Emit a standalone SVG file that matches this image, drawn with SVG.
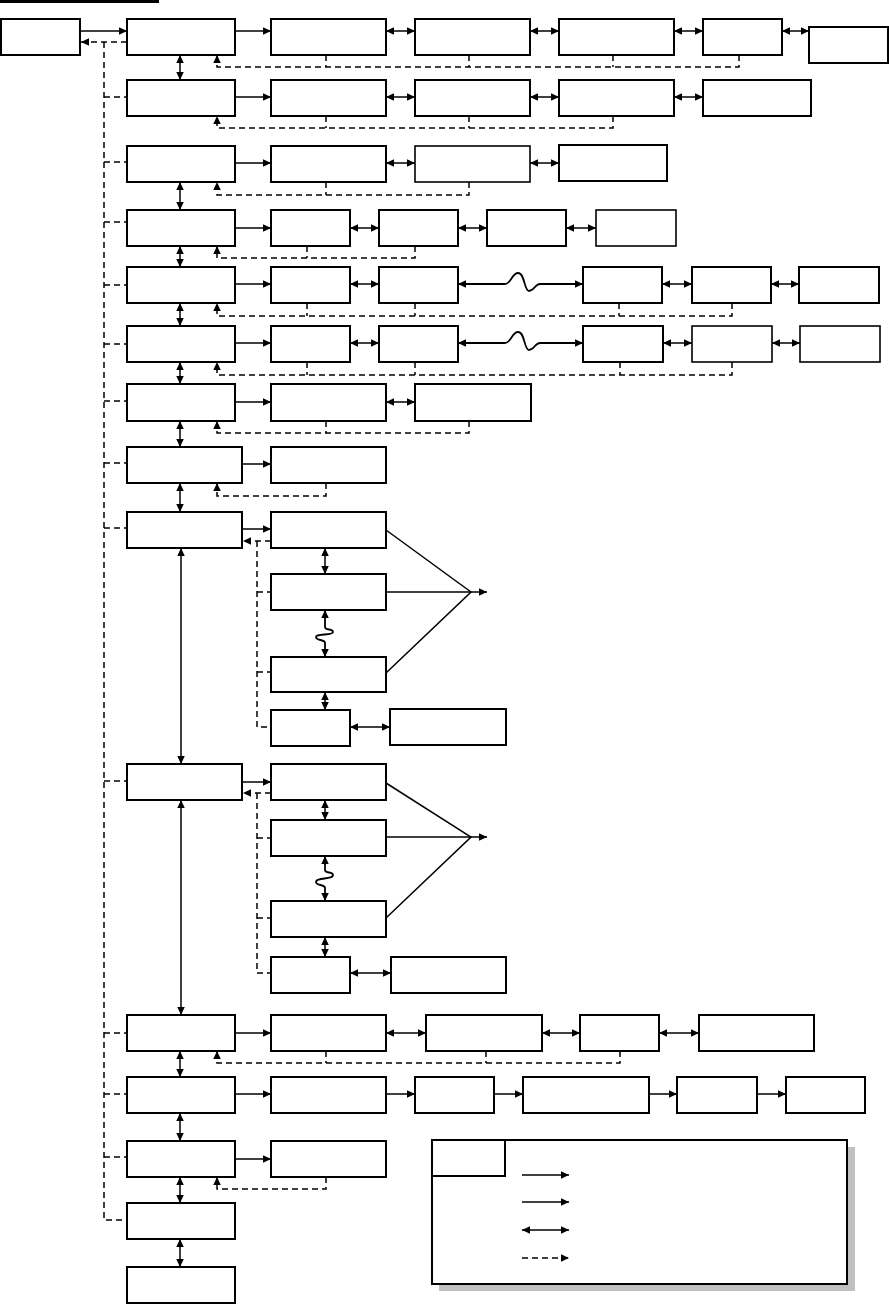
<svg xmlns="http://www.w3.org/2000/svg" width="889" height="1304" viewBox="0 0 889 1304">
<style>
.n{fill:#fff;stroke:#000;stroke-width:2}
.t{fill:#fff;stroke:#000;stroke-width:1.6}
.s{fill:none;stroke:#000;stroke-width:1.5}
.w{fill:none;stroke:#000;stroke-width:1.8}
.d{fill:none;stroke:#000;stroke-width:1.5;stroke-dasharray:6 4}
.a{marker-end:url(#ah)}
.b{marker-start:url(#ah);marker-end:url(#ah)}
</style>
<defs>
<marker id="ah" viewBox="0 0 8 7.5" refX="8" refY="3.75" markerWidth="8" markerHeight="7.5" markerUnits="userSpaceOnUse" orient="auto-start-reverse">
<path d="M0,0 L8,3.75 L0,7.5 z" fill="#000" stroke="none"/>
</marker>
</defs>
<rect x="0" y="0" width="159" height="3" fill="#000"/>

<g id="connectors">
<path class="d" d="M104,42 V1220 H127"/>
<path class="d a" d="M127,42 H81"/>
<path class="d" d="M104,97 H127 M104,162 H127 M104,222 H127 M104,285 H127 M104,344 H127 M104,401 H127 M104,463 H127 M104,528 H127 M104,781 H127 M104,1033 H127 M104,1094 H127 M104,1157 H127"/>
<!-- row 1 -->
<path class="s a" d="M80,31 H127"/>
<path class="s a" d="M235,31 H271"/>
<path class="s b" d="M386,31 H415"/>
<path class="s b" d="M530,31 H559"/>
<path class="s b" d="M674,31 H703"/>
<path class="s b" d="M782,31 H809"/>
<path class="d a" d="M739,55 V67 H217 V55"/>
<path class="d" d="M326,55 V67 M469,55 V67 M613,55 V67"/>
<!-- row 2 -->
<path class="s a" d="M235,97 H271"/>
<path class="s b" d="M386,97 H415"/>
<path class="s b" d="M530,97 H559"/>
<path class="s b" d="M674,97 H703"/>
<path class="d a" d="M613,116 V128 H217 V116"/>
<path class="d" d="M326,116 V128 M469,116 V128"/>
<!-- row 3 -->
<path class="s a" d="M235,163 H271"/>
<path class="s b" d="M386,163 H415"/>
<path class="s b" d="M530,163 H559"/>
<path class="d a" d="M469,182 V195 H217 V182"/>
<path class="d" d="M326,182 V195"/>
<!-- row 4 -->
<path class="s a" d="M235,228 H271"/>
<path class="s b" d="M350,228 H379"/>
<path class="s b" d="M458,228 H487"/>
<path class="s b" d="M566,228 H596"/>
<path class="d a" d="M415,246 V258 H217 V246"/>
<path class="d" d="M307,246 V258"/>
<!-- row 5 -->
<path class="s a" d="M235,284 H271"/>
<path class="s b" d="M350,284 H379"/>
<path class="w b" d="M458,284 H505 C511,284 512,273 518,273 C525,273 524,291 529,291 C534,291 535,284 540,284 H583"/>
<path class="s b" d="M662,284 H692"/>
<path class="s b" d="M771,284 H799"/>
<path class="d a" d="M732,303 V316 H217 V303"/>
<path class="d" d="M307,303 V316 M415,303 V316 M619,303 V316"/>
<!-- row 6 -->
<path class="s a" d="M235,343 H271"/>
<path class="s b" d="M350,343 H379"/>
<path class="w b" d="M458,343 H505 C511,343 512,332 518,332 C525,332 524,350 529,350 C534,350 535,343 540,343 H583"/>
<path class="s b" d="M663,343 H692"/>
<path class="s b" d="M772,343 H800"/>
<path class="d a" d="M732,362 V375 H217 V362"/>
<path class="d" d="M307,362 V375 M415,362 V375 M620,362 V375"/>
<!-- row 7 -->
<path class="s a" d="M235,402 H271"/>
<path class="s b" d="M386,402 H415"/>
<path class="d a" d="M469,421 V433 H217 V421"/>
<path class="d" d="M326,421 V433"/>
<!-- row 8 -->
<path class="s a" d="M242,464 H271"/>
<path class="d a" d="M326,483 V496 H217 V483"/>
<!-- row 9 -->
<path class="s a" d="M242,529 H271"/>
<path class="d a" d="M271,541 H243"/>
<path class="d" d="M257,541 V727 H271 M257,592 H271 M257,672 H271"/>
<path class="s b" d="M325,548 V574"/>
<path class="w b" d="M325,610 V627 C325,631 333,628 333,632 C333,636 316,633 316,637 C316,641 325,639 325,643 V657"/>
<path class="s b" d="M325,692 V710"/>
<path class="s b" d="M350,727 H390"/>
<path class="s" d="M386,530 L471,592 L386,673"/>
<path class="s a" d="M386,592 H487"/>
<!-- row 10 -->
<path class="s a" d="M242,782 H271"/>
<path class="d a" d="M271,793 H243"/>
<path class="d" d="M257,793 V973 H271 M257,838 H271 M257,918 H271"/>
<path class="s b" d="M325,800 V820"/>
<path class="w b" d="M325,856 V870 C325,874 333,871 333,875 C333,880 316,877 316,882 C316,886 325,884 325,888 V901"/>
<path class="s b" d="M325,937 V957"/>
<path class="s b" d="M350,973 H391"/>
<path class="s" d="M386,783 L471,837 L386,918"/>
<path class="s a" d="M386,837 H487"/>
<!-- row 11 -->
<path class="s a" d="M235,1033 H271"/>
<path class="s b" d="M386,1033 H426"/>
<path class="s b" d="M542,1033 H580"/>
<path class="s b" d="M659,1033 H699"/>
<path class="d a" d="M620,1051 V1063 H217 V1051"/>
<path class="d" d="M326,1051 V1063 M486,1051 V1063"/>
<!-- row 12 -->
<path class="s a" d="M235,1094 H271"/>
<path class="s a" d="M386,1094 H415"/>
<path class="s a" d="M494,1094 H523"/>
<path class="s a" d="M649,1094 H677"/>
<path class="s a" d="M757,1094 H786"/>
<!-- row 13 -->
<path class="s a" d="M235,1159 H271"/>
<path class="d a" d="M326,1177 V1189 H217 V1177"/>
<!-- main column vertical -->
<path class="s b" d="M180,55 V80"/>
<path class="s b" d="M180,182 V210"/>
<path class="s b" d="M180,246 V267"/>
<path class="s b" d="M180,303 V326"/>
<path class="s b" d="M180,362 V384"/>
<path class="s b" d="M180,421 V447"/>
<path class="s b" d="M180,483 V512"/>
<path class="s b" d="M181,548 V764"/>
<path class="s b" d="M181,800 V1015"/>
<path class="s b" d="M180,1051 V1077"/>
<path class="s b" d="M180,1113 V1141"/>
<path class="s b" d="M180,1177 V1203"/>
<path class="s b" d="M180,1239 V1267"/>
</g>

<g id="A"><rect class="n" x="1" y="19" width="79" height="36"/></g>
<g id="B1"><rect class="n" x="127" y="19" width="108" height="36"/></g>
<g id="r1c1"><rect class="n" x="271" y="19" width="115" height="36"/></g>
<g id="r1c2"><rect class="n" x="415" y="19" width="115" height="36"/></g>
<g id="r1c3"><rect class="n" x="559" y="19" width="115" height="36"/></g>
<g id="r1c4"><rect class="n" x="703" y="19" width="79" height="36"/></g>
<g id="r1c5"><rect class="n" x="809" y="27" width="79" height="36"/></g>

<g id="B2"><rect class="n" x="127" y="80" width="108" height="36"/></g>
<g id="r2c1"><rect class="n" x="271" y="80" width="115" height="36"/></g>
<g id="r2c2"><rect class="n" x="415" y="80" width="115" height="36"/></g>
<g id="r2c3"><rect class="n" x="559" y="80" width="115" height="36"/></g>
<g id="r2c4"><rect class="n" x="703" y="80" width="108" height="36"/></g>

<g id="B3"><rect class="n" x="127" y="146" width="108" height="36"/></g>
<g id="r3c1"><rect class="n" x="271" y="146" width="115" height="36"/></g>
<g id="r3c2"><rect class="t" x="415" y="146" width="115" height="36"/></g>
<g id="r3c3"><rect class="n" x="559" y="145" width="108" height="36"/></g>

<g id="B4"><rect class="n" x="127" y="210" width="108" height="36"/></g>
<g id="r4c1"><rect class="n" x="271" y="210" width="79" height="36"/></g>
<g id="r4c2"><rect class="n" x="379" y="210" width="79" height="36"/></g>
<g id="r4c3"><rect class="n" x="487" y="210" width="79" height="36"/></g>
<g id="r4c4"><rect class="t" x="596" y="210" width="80" height="36"/></g>

<g id="B5"><rect class="n" x="127" y="267" width="108" height="36"/></g>
<g id="r5c1"><rect class="n" x="271" y="267" width="79" height="36"/></g>
<g id="r5c2"><rect class="n" x="379" y="267" width="79" height="36"/></g>
<g id="r5c3"><rect class="n" x="583" y="267" width="79" height="36"/></g>
<g id="r5c4"><rect class="n" x="692" y="267" width="79" height="36"/></g>
<g id="r5c5"><rect class="n" x="799" y="267" width="80" height="36"/></g>

<g id="B6"><rect class="n" x="127" y="326" width="108" height="36"/></g>
<g id="r6c1"><rect class="n" x="271" y="326" width="79" height="36"/></g>
<g id="r6c2"><rect class="n" x="379" y="326" width="79" height="36"/></g>
<g id="r6c3"><rect class="n" x="583" y="326" width="80" height="36"/></g>
<g id="r6c4"><rect class="t" x="692" y="326" width="80" height="36"/></g>
<g id="r6c5"><rect class="t" x="800" y="326" width="80" height="36"/></g>

<g id="B7"><rect class="n" x="127" y="384" width="108" height="37"/></g>
<g id="r7c1"><rect class="n" x="271" y="384" width="115" height="37"/></g>
<g id="r7c2"><rect class="n" x="415" y="384" width="116" height="37"/></g>

<g id="B8"><rect class="n" x="127" y="447" width="115" height="36"/></g>
<g id="r8c1"><rect class="n" x="271" y="447" width="115" height="36"/></g>

<g id="B9"><rect class="n" x="127" y="512" width="115" height="36"/></g>
<g id="r9c1"><rect class="n" x="271" y="512" width="115" height="36"/></g>
<g id="r9c2"><rect class="n" x="271" y="574" width="115" height="36"/></g>
<g id="r9c3"><rect class="n" x="271" y="657" width="115" height="35"/></g>
<g id="r9c4"><rect class="n" x="271" y="710" width="79" height="36"/></g>
<g id="r9c5"><rect class="n" x="390" y="709" width="116" height="36"/></g>

<g id="B10"><rect class="n" x="127" y="764" width="115" height="36"/></g>
<g id="r10c1"><rect class="n" x="271" y="764" width="115" height="36"/></g>
<g id="r10c2"><rect class="n" x="271" y="820" width="115" height="36"/></g>
<g id="r10c3"><rect class="n" x="271" y="901" width="115" height="36"/></g>
<g id="r10c4"><rect class="n" x="271" y="957" width="79" height="36"/></g>
<g id="r10c5"><rect class="n" x="391" y="957" width="115" height="36"/></g>

<g id="B11"><rect class="n" x="127" y="1015" width="108" height="36"/></g>
<g id="r11c1"><rect class="n" x="271" y="1015" width="115" height="36"/></g>
<g id="r11c2"><rect class="n" x="426" y="1015" width="116" height="36"/></g>
<g id="r11c3"><rect class="n" x="580" y="1015" width="79" height="36"/></g>
<g id="r11c4"><rect class="n" x="699" y="1015" width="115" height="36"/></g>

<g id="B12"><rect class="n" x="127" y="1077" width="108" height="36"/></g>
<g id="r12c1"><rect class="n" x="271" y="1077" width="115" height="36"/></g>
<g id="r12c2"><rect class="n" x="415" y="1077" width="79" height="36"/></g>
<g id="r12c3"><rect class="n" x="523" y="1077" width="126" height="36"/></g>
<g id="r12c4"><rect class="n" x="677" y="1077" width="80" height="36"/></g>
<g id="r12c5"><rect class="n" x="786" y="1077" width="79" height="36"/></g>

<g id="B13"><rect class="n" x="127" y="1141" width="108" height="36"/></g>
<g id="r13c1"><rect class="n" x="271" y="1141" width="115" height="36"/></g>
<g id="B14"><rect class="n" x="127" y="1203" width="108" height="36"/></g>
<g id="B15"><rect class="n" x="127" y="1267" width="108" height="36"/></g>

<g id="legend">
<rect x="439" y="1147" width="416" height="144" fill="#c0c0c0"/>
<rect class="n" x="432" y="1140" width="415" height="144"/>
<rect class="n" x="432" y="1140" width="73" height="36"/>
<path class="s a" d="M522,1175 H569"/>
<path class="s a" d="M522,1202 H569"/>
<path class="s b" d="M522,1230 H569"/>
<path class="d a" d="M522,1258 H569"/>
</g>
</svg>
